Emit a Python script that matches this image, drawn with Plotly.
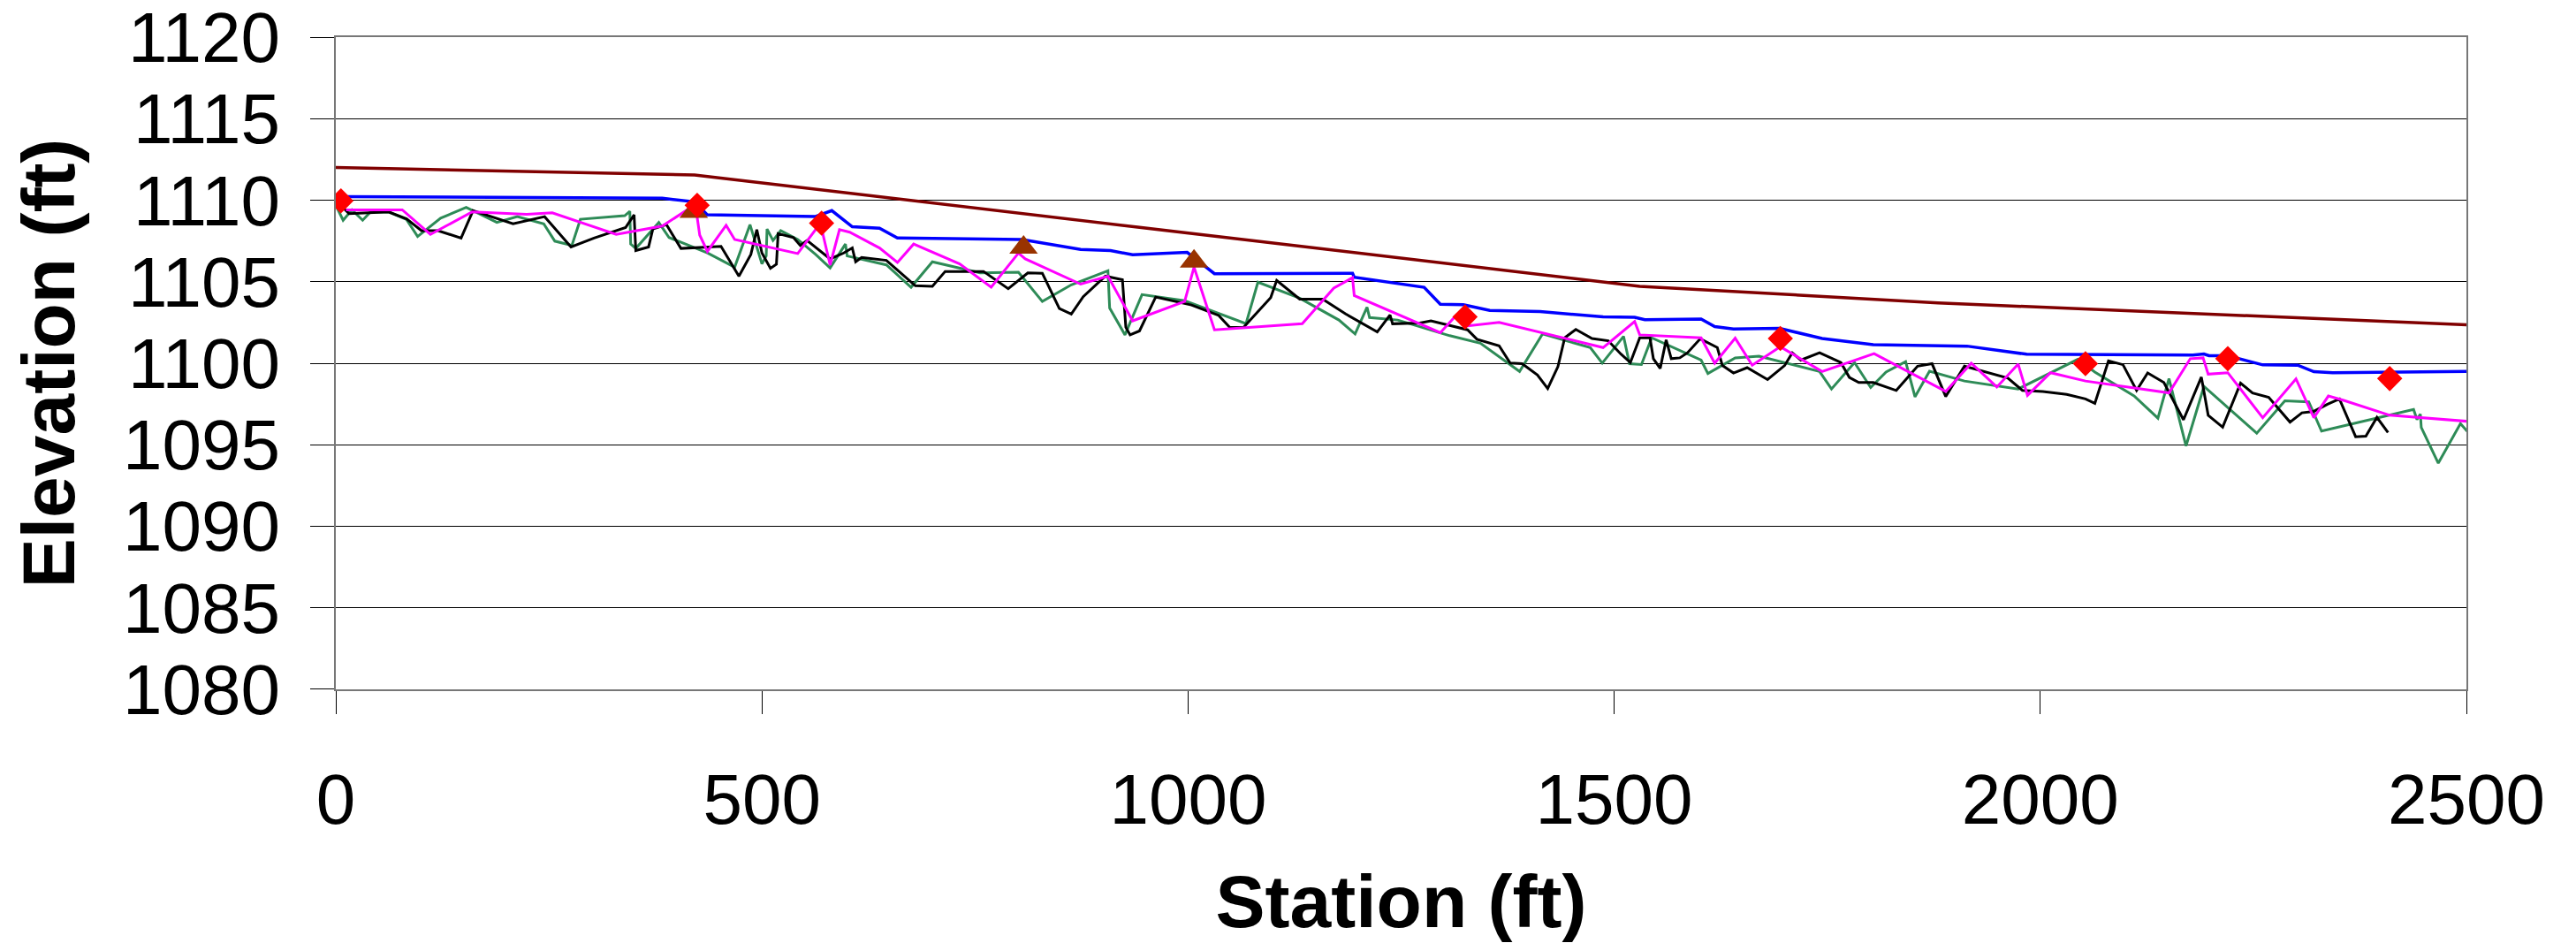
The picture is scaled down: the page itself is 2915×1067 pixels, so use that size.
import plotly.graph_objects as go

# Energy grade line (dark red)
egl_x = [0, 421, 1530, 1880, 2513]
egl_y = [1112.0, 1111.55, 1104.72, 1103.7, 1102.33]

# Water surface (blue)
ws_x = [10, 383, 421, 436, 563, 582, 606, 638, 659, 805, 874, 909, 935, 999, 1031, 1193, 1195,
        1277, 1296, 1323, 1354, 1413, 1487, 1524, 1536, 1602, 1618, 1640, 1694, 1744, 1804, 1914,
        1984, 2179, 2192, 2198, 2220, 2261, 2302, 2321, 2343, 2513]
ws_y = [1110.22, 1110.12, 1109.9, 1109.1, 1109.0, 1109.36, 1108.37, 1108.28, 1107.68, 1107.59,
        1106.98, 1106.91, 1106.65, 1106.8, 1105.49, 1105.52, 1105.27, 1104.66, 1103.62, 1103.59,
        1103.24, 1103.17, 1102.84, 1102.82, 1102.67, 1102.71, 1102.25, 1102.1, 1102.14, 1101.52,
        1101.14, 1101.05, 1100.55, 1100.5, 1100.57, 1100.46, 1100.46, 1099.9, 1099.88, 1099.48,
        1099.42, 1099.5]

# Magenta profile
mag_x = [12, 78, 111, 160, 224, 254, 329, 383, 415, 423, 427, 436, 458, 468, 542, 566, 571, 580,
         591, 603, 638, 659, 678, 732, 769, 801, 809, 874, 906, 935, 996, 1007, 1031, 1134, 1171,
         1193, 1195, 1296, 1313, 1328, 1365, 1487, 1524, 1530, 1602, 1618, 1642, 1662, 1695, 1744,
         1805, 1889, 1919, 1949, 1974, 1985, 2012, 2053, 2151, 2176, 2191, 2197, 2220, 2261, 2300,
         2321, 2338, 2356, 2410, 2513]
mag_y = [1109.4, 1109.41, 1107.9, 1109.28, 1109.14, 1109.23, 1107.9, 1108.41, 1109.5, 1109.32,
         1107.86, 1106.86, 1108.46, 1107.59, 1106.73, 1108.41, 1108.04, 1106.03, 1108.19, 1108.04,
         1107.07, 1106.18, 1107.31, 1106.09, 1104.66, 1106.76, 1106.4, 1104.85, 1105.34, 1102.6,
         1103.79, 1105.89, 1102.05, 1102.42, 1104.61, 1105.25, 1104.15, 1101.87, 1102.84, 1102.29,
         1102.51, 1100.96, 1102.56, 1101.74, 1101.56, 1100.0, 1101.54, 1099.88, 1101.01, 1099.49,
         1100.59, 1098.27, 1100.0, 1098.54, 1099.95, 1098.03, 1099.42, 1098.91, 1098.18, 1100.28,
         1100.33, 1099.33, 1099.42, 1096.66, 1099.04, 1096.66, 1097.99, 1097.72, 1096.81, 1096.39]

# Black profile
blk_x = [8.6, 15.5, 62, 83, 100.5, 120, 147, 161, 208, 245, 276, 303, 340, 350, 352, 367, 372,
         388, 405, 452, 473, 487, 494, 500, 510, 517, 519, 537, 545, 553, 580, 596, 606, 610, 617,
         646, 680, 700, 715, 760, 789, 812, 829, 849, 863, 877, 903, 923, 927, 932, 943, 962, 1004,
         1036, 1049, 1065, 1097, 1104, 1131, 1158, 1185, 1222, 1237, 1240, 1272, 1285, 1328, 1339,
         1365, 1378, 1392, 1410, 1422, 1434, 1442, 1455, 1474, 1493, 1508, 1519, 1530, 1542, 1546,
         1554, 1561, 1567, 1577, 1586, 1601, 1621, 1627, 1640, 1656, 1680, 1700, 1709, 1719, 1741,
         1766, 1776, 1787, 1804, 1831, 1856, 1873, 1889, 1911, 1933, 1962, 1979, 2003, 2031, 2053,
         2064, 2080, 2097, 2113, 2126, 2145, 2168, 2189, 2197, 2214, 2235, 2249, 2268, 2293, 2307,
         2321, 2337, 2351, 2370, 2382, 2395, 2408]
blk_y = [1109.54, 1109.17, 1109.28, 1108.86, 1108.13, 1108.13, 1107.68, 1109.36, 1108.55, 1108.99,
         1107.13, 1107.68, 1108.32, 1109.1, 1106.91, 1107.13, 1108.23, 1108.5, 1107.04, 1107.17,
         1105.34, 1106.67, 1108.19, 1106.76, 1105.82, 1106.07, 1107.95, 1107.71, 1107.22, 1107.53,
         1106.4, 1106.76, 1107.07, 1106.22, 1106.49, 1106.31, 1104.75, 1104.72, 1105.63, 1105.63,
         1104.57, 1105.54, 1105.52, 1103.35, 1103.02, 1104.08, 1105.34, 1105.12, 1102.2, 1101.74,
         1101.98, 1104.06, 1103.57, 1102.93, 1102.2, 1102.2, 1104.02, 1105.08, 1103.93, 1103.93,
         1103.02, 1101.92, 1102.96, 1102.42, 1102.47, 1102.6, 1102.05, 1101.47, 1101.07, 1100.01,
         1099.97, 1099.28, 1098.45, 1099.79, 1101.56, 1102.07, 1101.52, 1101.38, 1100.56, 1100.04,
         1101.56, 1101.56, 1100.28, 1099.68, 1101.43, 1100.28, 1100.33, 1100.64, 1101.5, 1100.96,
         1099.86, 1099.4, 1099.73, 1099.0, 1099.86, 1100.64, 1100.19, 1100.64, 1100.04, 1099.13,
         1098.82, 1098.82, 1098.33, 1099.82, 1099.97, 1097.96, 1099.82, 1099.49, 1099.09, 1098.33,
         1098.27, 1098.09, 1097.81, 1097.54, 1100.15, 1099.91, 1098.33, 1099.4, 1098.82, 1096.53,
         1099.15, 1096.81, 1096.08, 1098.78, 1098.18, 1097.91, 1096.39, 1096.96, 1097.05, 1097.49,
         1097.81, 1095.49, 1095.53, 1096.68, 1095.75]

# Green profile
grn_x = [0, 8.6, 19, 31.5, 40.5, 62, 83, 96, 123, 153, 189, 213, 244, 257, 277, 287, 339, 345,
         346, 352, 379, 391, 436, 468, 486, 500, 505, 506, 513, 522, 542, 563, 580, 598, 600, 646,
         675, 700, 756, 801, 829, 863, 906, 908, 926, 946, 996, 1068, 1082, 1131, 1177, 1196, 1210,
         1213, 1246, 1307, 1343, 1389, 1416, 1472, 1486, 1511, 1518, 1532, 1544, 1602, 1610, 1642,
         1670, 1741, 1755, 1782, 1801, 1819, 1842, 1853, 1870, 1911, 1974, 2044, 2064, 2110, 2138,
         2151, 2171, 2192, 2254, 2287, 2315, 2330, 2438, 2442, 2446, 2447, 2467, 2493, 2513]
grn_y = [1109.69, 1108.77, 1109.41, 1108.77, 1109.27, 1109.28, 1108.81, 1107.77, 1108.9, 1109.56,
         1108.64, 1108.99, 1108.55, 1107.49, 1107.22, 1108.83, 1109.05, 1109.32, 1107.31, 1107.04,
         1108.63, 1107.71, 1106.77, 1105.89, 1108.5, 1106.09, 1106.58, 1108.23, 1107.53, 1108.13,
         1107.59, 1106.67, 1105.85, 1107.31, 1106.58, 1106.03, 1104.66, 1106.22, 1105.54, 1105.58,
         1103.79, 1104.81, 1105.67, 1103.39, 1101.74, 1104.21, 1103.84, 1102.43, 1104.97, 1103.99,
         1102.65, 1101.8, 1103.44, 1102.8, 1102.65, 1101.69, 1101.23, 1099.5, 1101.8, 1100.96,
         1100.01, 1101.65, 1099.97, 1099.92, 1101.56, 1100.19, 1099.37, 1100.33, 1100.43, 1099.49,
         1098.42, 1100.04, 1098.51, 1099.46, 1100.1, 1097.94, 1099.51, 1098.91, 1098.42, 1100.24,
         1099.46, 1098.0, 1096.63, 1099.06, 1094.93, 1098.58, 1095.71, 1097.69, 1097.63, 1095.84,
         1097.17, 1096.55, 1096.88, 1096.06, 1093.87, 1096.3, 1095.09]

# Red diamond points
dia_x = [6, 424, 570, 1325, 1695, 2053, 2220, 2410]
dia_y = [1109.96, 1109.69, 1108.59, 1102.84, 1101.52, 1099.97, 1100.28, 1099.06]

# Brown triangle points
tri_x = [420, 807, 1007]
tri_y = [1109.3, 1107.1, 1106.25]

x_ticks = [0, 500, 1000, 1500, 2000, 2500]
y_ticks = [1080, 1085, 1090, 1095, 1100, 1105, 1110, 1115, 1120]

FONT = "Arial, 'Liberation Sans', sans-serif"

fig = go.Figure()
fig.add_trace(go.Scatter(x=egl_x, y=egl_y, mode="lines", line=dict(color="#800000", width=3.5)))
fig.add_trace(go.Scatter(x=ws_x, y=ws_y, mode="lines", line=dict(color="#0000FF", width=3.5)))
fig.add_trace(go.Scatter(x=grn_x, y=grn_y, mode="lines", line=dict(color="#2E8B57", width=3)))
fig.add_trace(go.Scatter(x=blk_x, y=blk_y, mode="lines", line=dict(color="#000000", width=3)))
fig.add_trace(go.Scatter(x=mag_x, y=mag_y, mode="lines", line=dict(color="#FF00FF", width=3)))
fig.add_trace(go.Scatter(x=tri_x, y=tri_y, mode="markers",
                         marker=dict(symbol="triangle-up", size=28, color="#993300")))
fig.add_trace(go.Scatter(x=dia_x, y=dia_y, mode="markers",
                         marker=dict(symbol="diamond", size=22, color="#FF0000")))

# The page body adds an 8px offset, so the figure is 8px smaller on each axis.
fig.update_layout(
    width=2907, height=1059,
    margin=dict(l=372, r=124, t=34, b=287),
    plot_bgcolor="white", paper_bgcolor="white",
    showlegend=False,
    font=dict(family=FONT, color="black"),
)
fig.update_xaxes(
    range=[0, 2500], tickvals=x_ticks, ticktext=[str(v) for v in x_ticks],
    ticks="outside", ticklen=26, tickcolor="black", tickwidth=1,
    showgrid=False, zeroline=False, automargin=False,
    showline=True, linecolor="#777777", linewidth=2, mirror=True,
    tickfont=dict(size=80, family=FONT), ticklabelstandoff=28, ticklabeloverflow="allow",
    title=dict(text="<b>Station (ft)</b>", font=dict(size=84, family=FONT), standoff=50),
)
fig.update_yaxes(
    range=[1079.999, 1120.001], tickvals=y_ticks, ticktext=[str(v) for v in y_ticks],
    ticks="outside", ticklen=27, tickcolor="black", tickwidth=1,
    showgrid=True, gridcolor="black", gridwidth=1, zeroline=False, automargin=False,
    showline=True, linecolor="#777777", linewidth=2, mirror=True,
    tickfont=dict(size=80, family=FONT), ticklabelstandoff=18, ticklabeloverflow="allow",
    title=dict(text="<b>Elevation (ft)</b>", font=dict(size=84, family=FONT), standoff=47),
)
fig.add_shape(type="line", xref="paper", yref="paper", x0=1.0541, x1=1.0541, y0=-0.41, y1=1.06,
              line=dict(color="black", width=1))

fig.write_html("out.html")
